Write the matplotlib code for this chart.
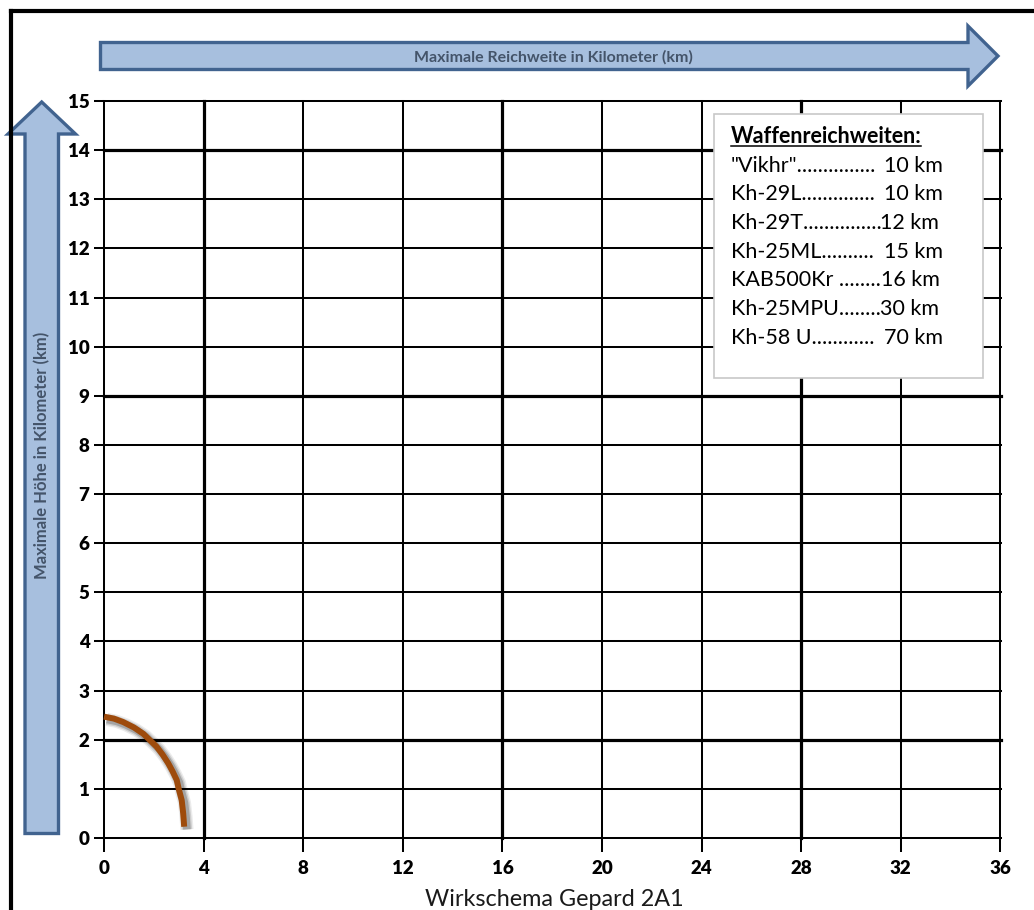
import matplotlib
matplotlib.use("Agg")
import matplotlib.pyplot as plt
from matplotlib.patches import Polygon, Rectangle
import matplotlib.patheffects as pe

plt.rcParams['font.family'] = ['Lato', 'DejaVu Sans']

# --- data -------------------------------------------------------------
x_ticks = [0, 4, 8, 12, 16, 20, 24, 28, 32, 36]
y_ticks = list(range(0, 16))
x_heavy = [4, 16, 28]
y_heavy = [2, 9, 14]

# Gepard 2A1 engagement envelope (range km, altitude km)
gepard_range = [0.0, 0.4, 0.77, 1.2, 1.58, 2.11, 2.35, 2.58, 2.75, 2.92, 3.0, 3.12, 3.18, 3.22]
gepard_alt = [2.47, 2.43, 2.36, 2.25, 2.12, 1.86, 1.70, 1.52, 1.36, 1.18, 1.0, 0.77, 0.5, 0.23]

weapon_names = ['"Vikhr"', 'Kh-29L', 'Kh-29T', 'Kh-25ML', 'KAB500Kr ', 'Kh-25MPU', 'Kh-58 U']
weapon_ranges = [10, 10, 12, 15, 16, 30, 70]

title_x = "Maximale Reichweite in Kilometer (km)"
title_y = "Maximale Höhe in Kilometer (km)"
caption = "Wirkschema Gepard 2A1"
legend_title = "Waffenreichweiten:"

W, H = 1034, 910
ARROW_FILL = '#A7BFDE'
ARROW_EDGE = '#41638F'
ARROW_TEXT = '#44546A'

fig = plt.figure(figsize=(W / 100, H / 100), dpi=100)

# --- main grid --------------------------------------------------------
x0, x1, y0, y1 = 104, 1000.5, 838, 101
ax = fig.add_axes([x0 / W, 1 - y0 / H, (x1 - x0) / W, (y0 - y1) / H])
ax.set_xlim(0, 36)
ax.set_ylim(0, 15)
for s in ax.spines.values():
    s.set_visible(False)

thin, thick = 1.45, 2.3
for xv in x_ticks:
    ax.axvline(xv, color='black', lw=thick if xv in x_heavy else thin,
               clip_on=False, zorder=1)
for yv in y_ticks:
    ax.axhline(yv, color='black', lw=thick if yv in y_heavy else thin,
               clip_on=False, zorder=1)

ax.set_xticks(x_ticks)
ax.set_yticks(y_ticks)
ax.tick_params(axis='x', direction='out', length=10, width=1.45, pad=6,
               labelsize=13.5)
ax.tick_params(axis='y', direction='out', length=7.2, width=1.45, pad=3.2,
               labelsize=13.5)
for lab in ax.get_xticklabels() + ax.get_yticklabels():
    lab.set_fontweight('heavy')

# envelope curve with a soft drop shadow
shadow = [pe.SimpleLineShadow(offset=(2.0, -2.0), shadow_color='black',
                              alpha=a, linewidth=w)
          for a, w in [(0.08, 9.5), (0.12, 7.5), (0.2, 5.5)]]
ax.plot(gepard_range, gepard_alt, color='#9E4B0C', lw=4.3,
        solid_capstyle='butt', solid_joinstyle='round', zorder=5,
        clip_on=False, path_effects=shadow + [pe.Normal()])

# --- overlay in pixel coordinates --------------------------------------
ov = fig.add_axes([0, 0, 1, 1], zorder=3)
ov.set_xlim(0, W)
ov.set_ylim(H, 0)
ov.axis('off')

# page frame
ov.plot([10.5, 10.5], [H + 5, 10.5], color='black', lw=3.0,
        solid_capstyle='projecting')
ov.plot([10.5, W + 5], [10.5, 10.5], color='black', lw=3.0,
        solid_capstyle='projecting')

# horizontal arrow
h_arrow = [(100.5, 42.5), (968, 42.5), (968, 26), (998, 56), (968, 86),
           (968, 69.5), (100.5, 69.5)]
ov.add_patch(Polygon(h_arrow, closed=True, facecolor=ARROW_FILL,
                     edgecolor=ARROW_EDGE, lw=2.4, joinstyle='miter'))
ov.text(553, 57, title_x, ha='center', va='center', fontsize=11.5,
        fontweight='bold', color=ARROW_TEXT)

# vertical arrow
v_arrow = [(25, 833.5), (25, 134), (8, 134), (41.7, 102), (75.5, 134),
           (58.5, 134), (58.5, 833.5)]
ov.add_patch(Polygon(v_arrow, closed=True, facecolor=ARROW_FILL,
                     edgecolor=ARROW_EDGE, lw=2.4, joinstyle='miter'))
ov.text(42, 455, title_y, ha='center', va='center', rotation=90,
        fontsize=12, fontweight='bold', color=ARROW_TEXT)

# caption under the chart
ov.text(554, 906, caption, ha='center', va='baseline', fontsize=16.8,
        color='#1a1a1a')

# weapon range box
ov.add_patch(Rectangle((714.3, 114), 269, 264.3, facecolor='white',
                       edgecolor='#C8C8C8', lw=1.2))
tx = 730.7
t_title = ov.text(tx, 142.7, legend_title, ha='left', va='baseline',
                  fontsize=15.5, fontweight='bold', color='black')

fig.canvas.draw()
renderer = fig.canvas.get_renderer()
inv = ov.transData.inverted()


def right_edge(t):
    bb = t.get_window_extent(renderer)
    return inv.transform((bb.x1, bb.y0))[0]


ov.plot([tx, right_edge(t_title)], [146, 146], color='black', lw=1.1)

# leader dots end where each range value begins
dot_ends = [873, 873, 878, 873, 880, 879, 873]
value_xs = [884, 884, 880, 884, 881, 880, 884]
for i, (name, rng) in enumerate(zip(weapon_names, weapon_ranges)):
    yb = 171.7 + 28.7 * i
    label = name
    t = ov.text(tx, yb, label, ha='left', va='baseline', fontsize=15.5,
                color='black')
    while right_edge(t) < dot_ends[i] - 1.5:
        label += '.'
        t.set_text(label)
    ov.text(value_xs[i], yb, f"{rng} km", ha='left', va='baseline',
            fontsize=15.5, color='black')

fig.savefig('out.png', dpi=100, facecolor='white')
